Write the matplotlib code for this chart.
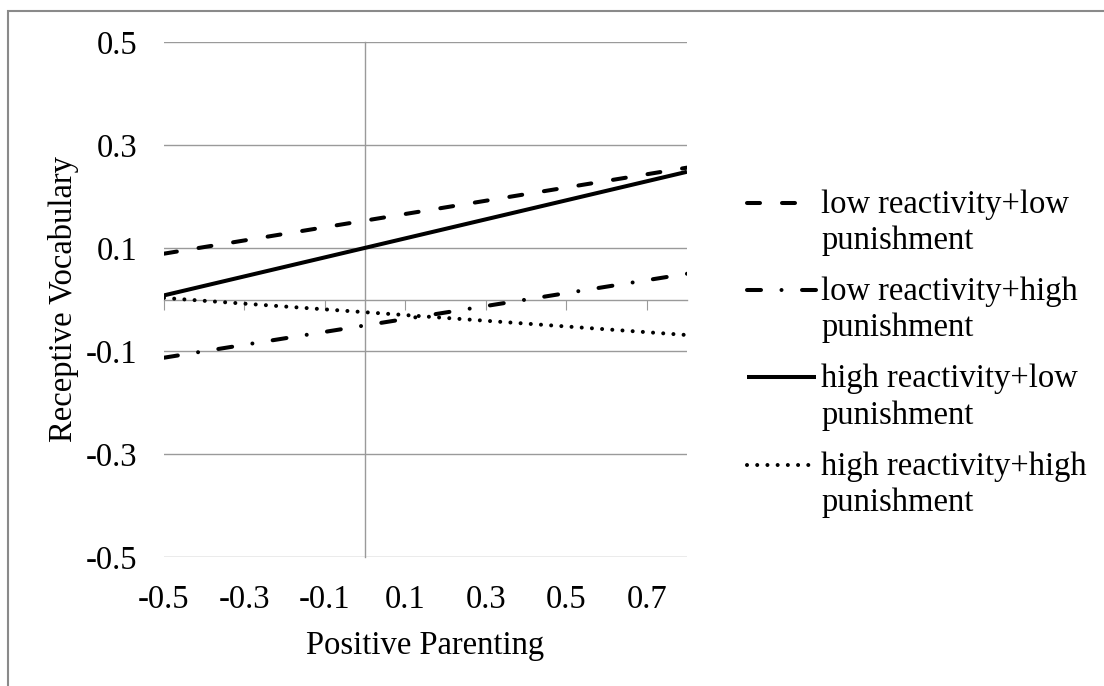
import numpy as np
import matplotlib
matplotlib.use("Agg")
import matplotlib.pyplot as plt
from matplotlib.lines import Line2D
from matplotlib.patches import Rectangle
from matplotlib.legend_handler import HandlerLine2D

# data (simple slopes at -0.5 and 0.8)
x_vals = [-0.5, 0.8]
low_react_low_pun = [0.089, 0.256]
low_react_high_pun = [-0.113, 0.050]
high_react_low_pun = [0.008, 0.248]
high_react_high_pun = [0.003, -0.069]

series_labels = ["low reactivity+low\npunishment",
                 "low reactivity+high\npunishment",
                 "high reactivity+low\npunishment",
                 "high reactivity+high\npunishment"]

x_ticks = [-0.5, -0.3, -0.1, 0.1, 0.3, 0.5, 0.7]
x_ticklabels = ["-0.5", "-0.3", "-0.1", "0.1", "0.3", "0.5", "0.7"]
y_ticks = [-0.5, -0.3, -0.1, 0.1, 0.3, 0.5]
y_ticklabels = ["-0.5", "-0.3", "-0.1", "0.1", "0.3", "0.5"]

plt.rcParams["font.family"] = ["Liberation Serif", "DejaVu Serif"]
plt.rcParams["lines.scale_dashes"] = False
fs = 23.5
grid_col = "#9a9a9a"

W, H = 1104, 686
fig = plt.figure(figsize=(W / 100, H / 100), dpi=100)
ax = fig.add_axes([164 / W, 1 - 557 / H, (687 - 164) / W, (557 - 42) / H])

lw = 2.9
px = 0.72  # points per pixel
styles = [
    dict(dashes=(13 * px, 22 * px), dash_capstyle="round"),
    dict(dashes=(14 * px, 20.5 * px, 0.01, 20.5 * px), dash_capstyle="round"),
    dict(linestyle="-", solid_capstyle="butt"),
    dict(dashes=(0.01, 10.2 * px), dash_capstyle="round"),
]
series = [low_react_low_pun, low_react_high_pun, high_react_low_pun, high_react_high_pun]

handles = []
for ys, st, lab in zip(series, styles, series_labels):
    ln, = ax.plot(x_vals, ys, color="black", lw=lw, label=lab, **st)
    handles.append(ln)

ax.set_xlim(-0.5, 0.8)
ax.set_ylim(-0.5, 0.5)

# horizontal gridlines
for yv in y_ticks:
    ax.axhline(yv, color=grid_col, lw=1, zorder=0)

for s in ["top", "right"]:
    ax.spines[s].set_visible(False)
ax.spines["bottom"].set_position(("data", 0))
ax.spines["left"].set_position(("data", 0))
for s in ["bottom", "left"]:
    ax.spines[s].set_color(grid_col)
    ax.spines[s].set_linewidth(1)
    ax.spines[s].set_zorder(0)
ax.set_xticks(x_ticks)
ax.tick_params(axis="x", direction="out", length=7.5, width=0.8, color=grid_col,
               labelbottom=False)
ax.set_yticks([])

# tick labels at the outer edges
secx = ax.secondary_xaxis("bottom")
secx.set_xticks(x_ticks, labels=x_ticklabels)
secx.tick_params(length=0, pad=20, labelsize=fs)
secx.spines["bottom"].set_visible(False)
secx.set_xlabel("Positive Parenting", fontsize=fs, labelpad=11)

secy = ax.secondary_yaxis("left")
secy.set_yticks(y_ticks, labels=y_ticklabels)
secy.tick_params(length=0, pad=19, labelsize=fs)
secy.spines["left"].set_visible(False)
secy.set_ylabel("Receptive Vocabulary", fontsize=fs, labelpad=5)


class TopLineHandler(HandlerLine2D):
    # put the legend sample next to the first text line
    def create_artists(self, legend, orig_handle, xdescent, ydescent,
                       width, height, fontsize, trans):
        arts = super().create_artists(legend, orig_handle, xdescent, ydescent,
                                      width, height, fontsize, trans)
        for a in arts:
            a.set_ydata(np.asarray(a.get_ydata()) + 0.62 * fontsize)
        return arts


leg = fig.legend(handles=handles, labels=series_labels, loc="upper left",
                 bbox_to_anchor=(747 / W, 1 - 189 / H), frameon=False,
                 fontsize=fs, handlelength=2.1, handletextpad=0.18,
                 labelspacing=0.62, borderpad=0, borderaxespad=0,
                 handler_map={Line2D: TopLineHandler()})
for t in leg.get_texts():
    t.set_linespacing(1.26)

# outer chart border
fig.patches.append(Rectangle((8 / W, -0.1), 1.2, 1.1 - 11 / H, transform=fig.transFigure,
                             fill=False, edgecolor="#8a8a8a", lw=1.5))

fig.savefig("out.png", dpi=100)
